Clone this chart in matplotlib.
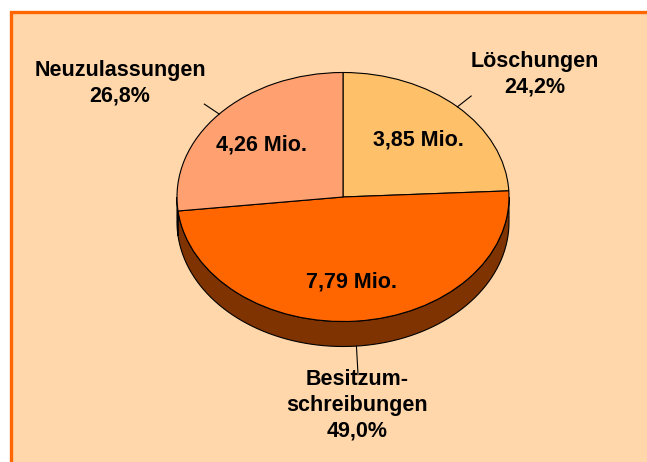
import numpy as np
import matplotlib.pyplot as plt
from matplotlib.patches import Wedge, Polygon, Rectangle

# data
labels = ["Löschungen", "Besitzum-\nschreibungen", "Neuzulassungen"]
values = [3.85, 7.79, 4.26]          # Mio.
value_text = ["3,85 Mio.", "7,79 Mio.", "4,26 Mio."]
colors = ["#FFC06A", "#FF6600", "#FFA070"]
side_colors = ["#80602F", "#7F3300", "#804F37"]

W, H = 647, 462
cx, cy = 343, 197          # pie centre (px)
rx, ry = 166, 124.5        # ellipse radii (px)
depth = 25 / ry            # thickness in radius units

font = ['Liberation Sans', 'DejaVu Sans']
fs = 15.5

fig = plt.figure(figsize=(W / 100, H / 100), dpi=100)
fig.patch.set_facecolor("white")
fig.patches.append(Rectangle((10.5 / W, -0.1), 1.2, 1 - 12.5 / H + 0.1,
                             transform=fig.transFigure, facecolor="#FFD7AA",
                             edgecolor="#FF6600", linewidth=2.4, zorder=-1))

ax = fig.add_axes([0, 0, 1, 1])
ax.set_xlim(-cx / rx, (W - cx) / rx)
ax.set_ylim((cy - H) / ry, cy / ry)
ax.axis("off")
ax.patch.set_alpha(0)

total = sum(values)
fracs = [v / total for v in values]

# angles: start at 12 o'clock, clockwise
starts = []
a = 90.0
for f in fracs:
    starts.append((a - f * 360, a))
    a -= f * 360

# side wall (front half only, -180..0 deg)
for (t1, t2), sc in zip(starts, side_colors):
    for sh in (0, 360, -360):
        s, e = max(t1 + sh, -180), min(t2 + sh, 0)
        if e <= s:
            continue
        t = np.radians(np.linspace(s, e, 80))
        top = np.column_stack([np.cos(t), np.sin(t)])
        bot = np.column_stack([np.cos(t[::-1]), np.sin(t[::-1]) - depth])
        ax.add_patch(Polygon(np.vstack([top, bot]), closed=True, facecolor=sc,
                             edgecolor="black", linewidth=0.8, zorder=2))

# top surface
for (t1, t2), c in zip(starts, colors):
    ax.add_patch(Wedge((0, 0), 1, t1, t2, facecolor=c, edgecolor="black",
                       linewidth=0.8, zorder=3))

# value labels inside slices
for (t1, t2), txt in zip(starts, value_text):
    m = np.radians((t1 + t2) / 2)
    ax.text(0.66 * np.cos(m), 0.66 * np.sin(m) - 3 / ry, txt, ha="center",
            va="center", fontsize=fs, fontweight="bold", family=font, zorder=5)

# leader lines and outer labels
label_pos = [(535, 74), (357, 405), (120, 83)]
for (t1, t2), lab, f, (lx, ly) in zip(starts, labels, fracs, label_pos):
    m = np.radians((t1 + t2) / 2)
    off = depth if np.sin(m) < 0 else 0
    x0, y0 = np.cos(m), np.sin(m) - off
    x1, y1 = 1.12 * np.cos(m), 1.12 * np.sin(m) - off * 1.55
    ax.plot([x0, x1], [y0, y1], color="black", lw=0.8, zorder=4)
    pct = f"{f * 100:.1f}%".replace(".", ",")
    ax.text((lx - cx) / rx, (cy - ly) / ry, lab + "\n" + pct, ha="center",
            va="center", fontsize=fs, fontweight="bold", family=font,
            linespacing=1.3, zorder=5)

fig.savefig("out.png", dpi=100)
